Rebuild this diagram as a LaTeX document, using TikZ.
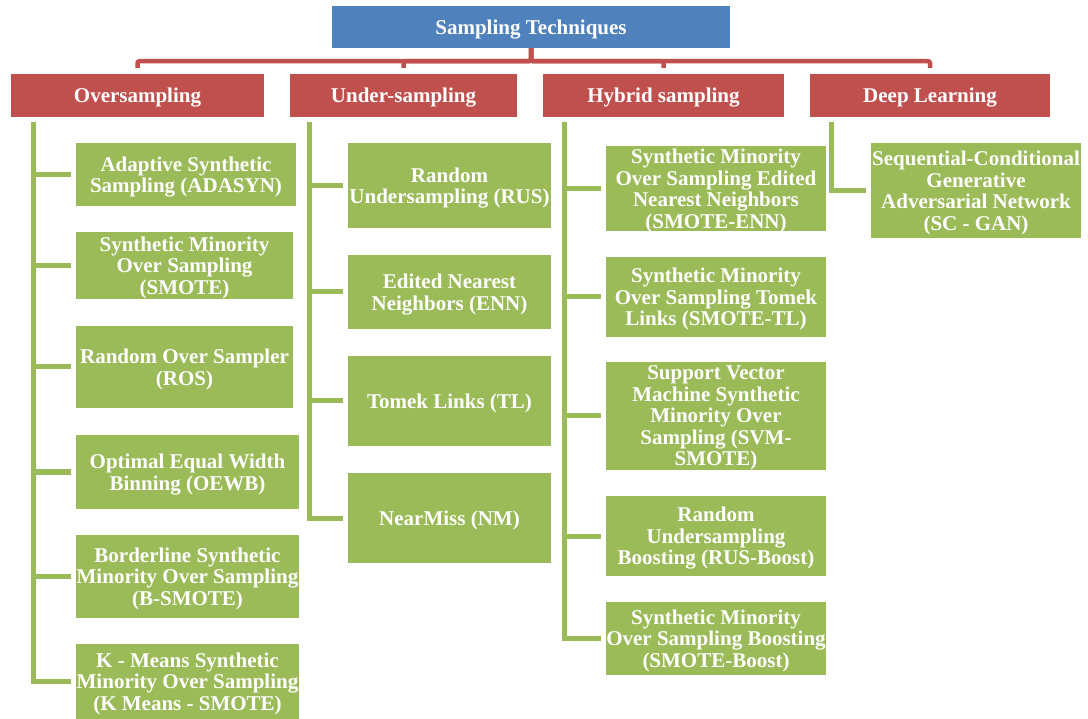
\documentclass[tikz,border=0pt]{standalone}
\usepackage{fontspec}
\setmainfont{Liberation Serif}
\usepackage{tikz}
\definecolor{topblue}{HTML}{4F81BD}
\definecolor{catred}{HTML}{C0504D}
\definecolor{leafgreen}{HTML}{9BBB59}

\begin{document}
\begin{tikzpicture}[x=1pt,y=-1pt,
		box/.style={fill=#1,text=white,font=\fontsize{21}{21.5}\selectfont\bfseries,align=center,inner sep=0pt,text depth=0pt},
		cat/.style={box=catred,minimum width=#1,minimum height=43pt},
		leaf/.style 2 args={box=leafgreen,minimum width=#1,minimum height=#2},
		redline/.style={draw=catred,line width=4.5pt,rounded corners=2pt,shorten >=6pt},
		greenline/.style={draw=leafgreen,line width=5pt,shorten <=5pt,shorten >=5pt}]
		\useasboundingbox (0,0) rectangle (1088,719);
		\node[box=topblue,minimum width=398pt,minimum height=42pt] (tech) at (531,27) {Sampling Techniques};
		\node[cat=253pt] (over) at (137.5,95.5) {Oversampling};
		\node[cat=227pt] (under) at (403.5,95.5) {Under-sampling};
		\node[cat=241pt] (hybrid) at (663.5,95.5) {Hybrid sampling};
		\node[cat=240pt] (deep) at (930,95.5) {Deep Learning};
		\node[leaf={220pt}{63pt}] (o1) at (186,174.5) {Adaptive Synthetic\\Sampling (ADASYN)};
		\node[leaf={217pt}{67pt}] (o2) at (184.5,265.5) {Synthetic Minority\\Over Sampling\\(SMOTE)};
		\node[leaf={217pt}{82pt}] (o3) at (184.5,367) {Random Over Sampler\\(ROS)};
		\node[leaf={223pt}{74pt}] (o4) at (187.5,472) {Optimal Equal Width\\Binning (OEWB)};
		\node[leaf={223pt}{83pt}] (o5) at (187.5,576.5) {Borderline Synthetic\\Minority Over Sampling\\(B-SMOTE)};
		\node[leaf={223pt}{75pt}] (o6) at (187.5,681.5) {K - Means Synthetic\\Minority Over Sampling\\(K Means - SMOTE)};
		\node[leaf={203pt}{85pt}] (u1) at (449.5,185.5) {Random\\Undersampling (RUS)};
		\node[leaf={203pt}{74pt}] (u2) at (449.5,292) {Edited Nearest\\Neighbors (ENN)};
		\node[leaf={203pt}{90pt}] (u3) at (449.5,401) {Tomek Links (TL)};
		\node[leaf={203pt}{90pt}] (u4) at (449.5,518) {NearMiss (NM)};
		\node[leaf={220pt}{85pt}] (h1) at (716,188.5) {Synthetic Minority\\Over Sampling Edited\\Nearest Neighbors\\(SMOTE-ENN)};
		\node[leaf={220pt}{80pt}] (h2) at (716,297) {Synthetic Minority\\Over Sampling Tomek\\Links (SMOTE-TL)};
		\node[leaf={220pt}{108pt}] (h3) at (716,416) {Support Vector\\Machine Synthetic\\Minority Over\\Sampling (SVM-\\SMOTE)};
		\node[leaf={220pt}{80pt}] (h4) at (716,536) {Random\\Undersampling\\Boosting (RUS-Boost)};
		\node[leaf={220pt}{73pt}] (h5) at (716,638.5) {Synthetic Minority\\Over Sampling Boosting\\(SMOTE-Boost)};
		\node[leaf={210pt}{95pt}] (d1) at (976,190.5) {Sequential-Conditional\\Generative\\Adversarial Network\\(SC - GAN)};
		\draw[redline] (tech.south) -- ++(0,13) -| (over.north);
		\draw[redline] (tech.south) -- ++(0,13) -| (under.north);
		\draw[redline] (tech.south) -- ++(0,13) -| (hybrid.north);
		\draw[redline] (tech.south) -- ++(0,13) -| (deep.north);
		\draw[greenline] ([xshift=23pt]over.south west) |- (o1.west);
		\draw[greenline] ([xshift=23pt]over.south west) |- (o2.west);
		\draw[greenline] ([xshift=23pt]over.south west) |- (o3.west);
		\draw[greenline] ([xshift=23pt]over.south west) |- (o4.west);
		\draw[greenline] ([xshift=23pt]over.south west) |- (o5.west);
		\draw[greenline] ([xshift=23pt]over.south west) |- (o6.west);
		\draw[greenline] ([xshift=20pt]under.south west) |- (u1.west);
		\draw[greenline] ([xshift=20pt]under.south west) |- (u2.west);
		\draw[greenline] ([xshift=20pt]under.south west) |- (u3.west);
		\draw[greenline] ([xshift=20pt]under.south west) |- (u4.west);
		\draw[greenline] ([xshift=22pt]hybrid.south west) |- (h1.west);
		\draw[greenline] ([xshift=22pt]hybrid.south west) |- (h2.west);
		\draw[greenline] ([xshift=22pt]hybrid.south west) |- (h3.west);
		\draw[greenline] ([xshift=22pt]hybrid.south west) |- (h4.west);
		\draw[greenline] ([xshift=22pt]hybrid.south west) |- (h5.west);
		\draw[greenline] ([xshift=21.5pt]deep.south west) |- (d1.west);
\end{tikzpicture}
\end{document}
